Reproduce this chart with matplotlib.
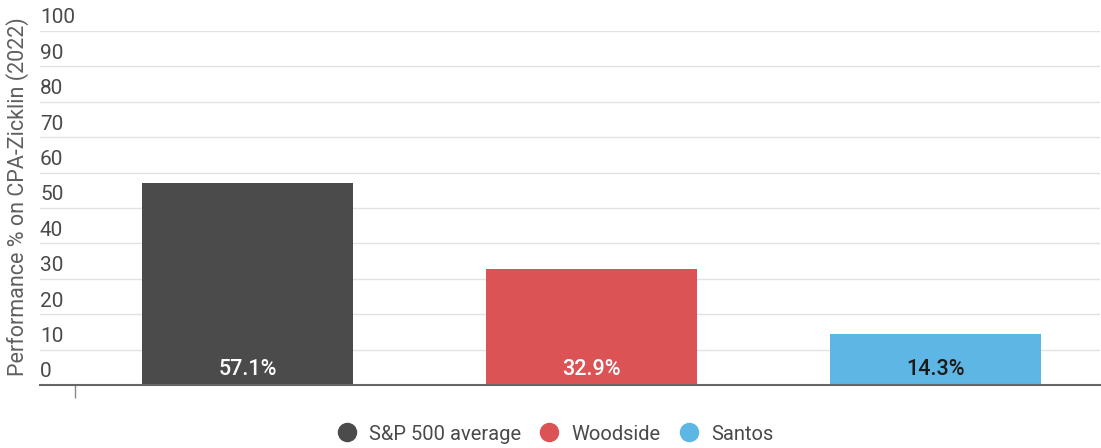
import matplotlib.pyplot as plt
import numpy as np

plt.rcParams['font.family'] = ['Roboto', 'DejaVu Sans']

# Data
categories = ['S&P 500 average', 'Woodside', 'Santos']
values = [57.1, 32.9, 14.3]
colors = ['#4b4b4b', '#dc5356', '#5db6e4']
label_colors = ['white', 'white', '#1a1a1a']
yticks = [0, 10, 20, 30, 40, 50, 60, 70, 80, 90, 100]

fig = plt.figure(figsize=(11.01, 4.48), dpi=100)
ax = fig.add_axes([40 / 1101, 1 - 385 / 448, 1060 / 1101, 354 / 448])

x = np.arange(len(categories))
ax.bar(x, values, width=0.613, color=colors, zorder=2)

# value labels at bottom of bars
for i in range(len(values)):
    ax.text(x[i], 1.3, f'{values[i]}%', ha='center', va='bottom',
            fontsize=15.5, fontweight='medium', color=label_colors[i], zorder=3)

ax.set_xlim(-0.603, 2.478)
ax.set_ylim(0, 100)

# gridlines and left-aligned tick labels sitting above them
for t in yticks:
    if t > 0:
        ax.axhline(t, color='#e2e2e2', lw=1, zorder=1)
    ax.text(0.0, t + 1.0, str(t), transform=ax.get_yaxis_transform(),
            ha='left', va='bottom', fontsize=15, color='#4a4a4a', zorder=3)

ax.set_yticks([])
ax.set_xticks([-0.5])
ax.set_xticklabels([''])
ax.tick_params(axis='x', length=9, width=1, color='#888888')
for s in ['top', 'right', 'left']:
    ax.spines[s].set_visible(False)
ax.spines['bottom'].set_color('#666666')
ax.spines['bottom'].set_linewidth(1.5)
ax.spines['bottom'].set_zorder(4)

fig.text(18 / 1101, 1 - 197 / 448, 'Performance % on CPA-Zicklin (2022)',
         rotation=90, ha='center', va='center', fontsize=15.5, color='#5f5f5f')

# legend
handles = [plt.Line2D([], [], marker='o', ls='', markersize=13,
                      markerfacecolor=c, markeredgecolor=c) for c in colors]
fig.legend(handles, categories, loc='center', bbox_to_anchor=(550 / 1101, 1 - 434 / 448),
           ncol=3, frameon=False, fontsize=14.5, handletextpad=0.1,
           columnspacing=0.4, labelcolor='#4a4a4a')

fig.savefig('out.png', dpi=100)
